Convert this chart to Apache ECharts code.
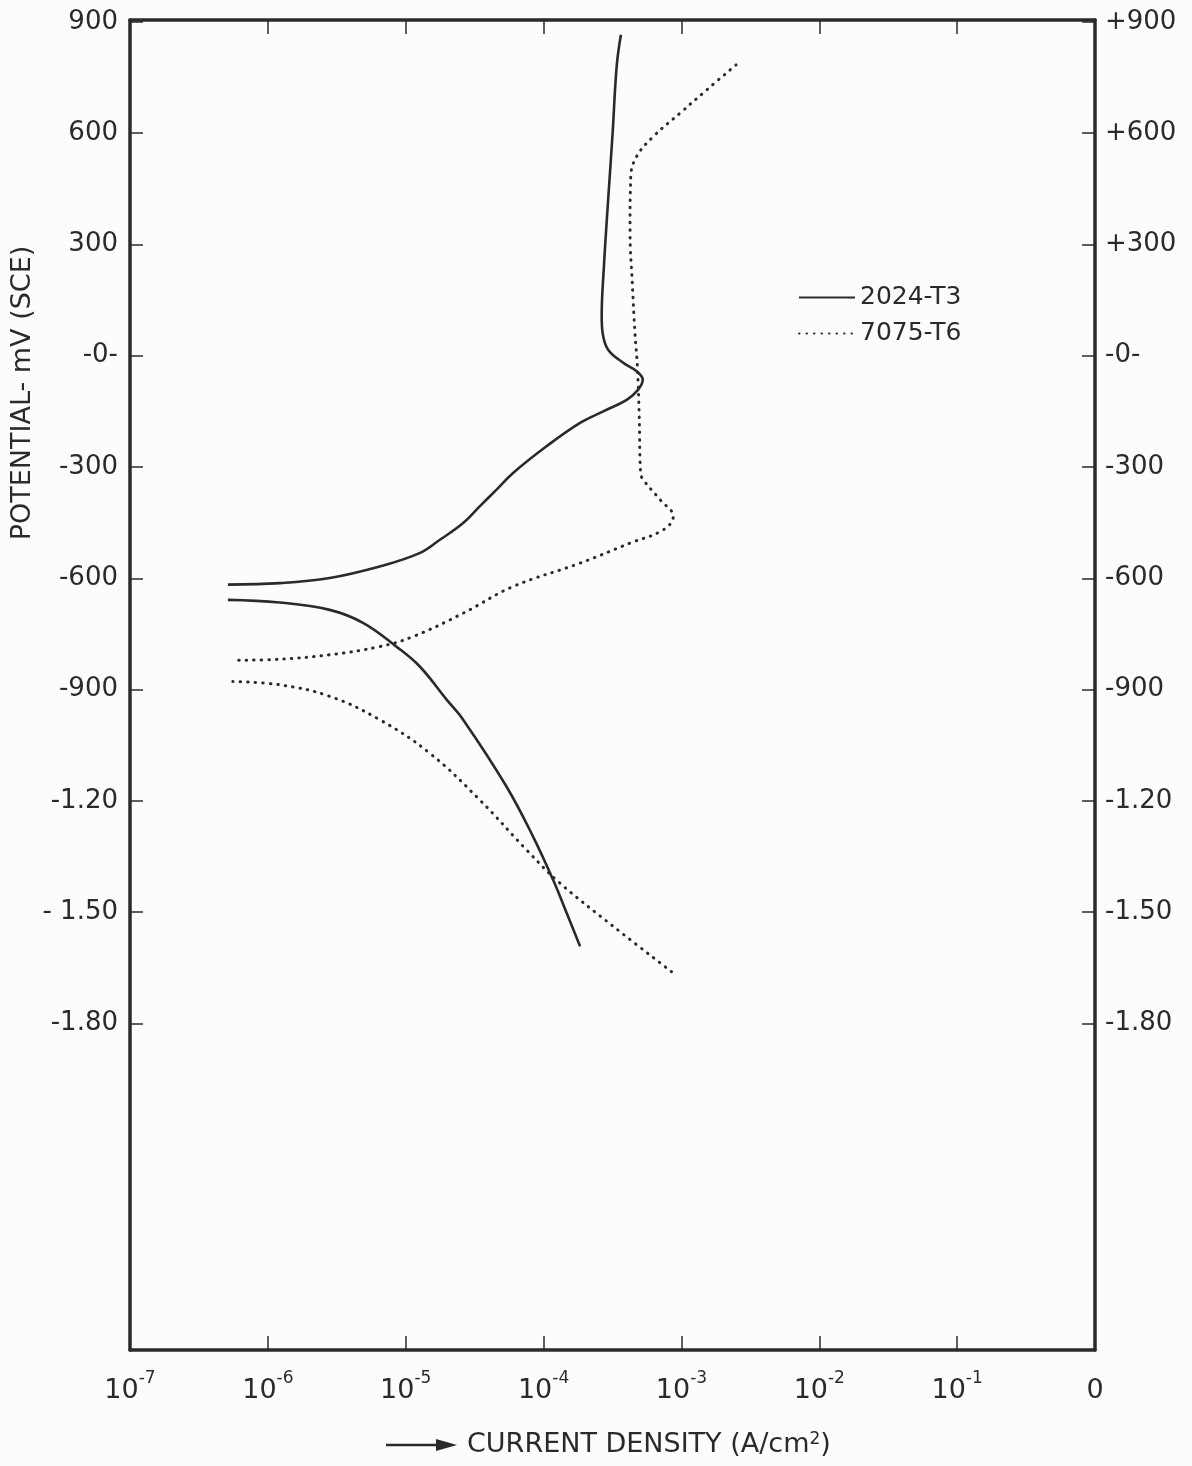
<!DOCTYPE html>
<html>
<head>
<meta charset="utf-8">
<script src="https://cdn.jsdelivr.net/npm/echarts@6/dist/echarts.min.js"></script>
<style>
html,body{margin:0;padding:0;background:#fcfcfc;}
#c{width:1192px;height:1466px;}
</style>
</head>
<body>
<div id="c"></div>
<script>
// ---- data (current density A/cm2, potential mV SCE) ----
const t3AnodicI = [3.64e-4, 3.39e-4, 3.17e-4, 2.94e-4, 2.74e-4, 2.64e-4, 2.68e-4, 2.94e-4, 3.78e-4, 4.73e-4, 5.24e-4, 4.84e-4, 4.01e-4, 2.71e-4, 1.84e-4, 1.05e-4, 6.01e-5, 4.56e-5, 3.44e-5, 2.61e-5, 1.77e-5, 1.26e-5, 6.47e-6, 2.81e-6, 1.22e-6, 5.13e-7];
const t3AnodicE = [865, 780, 601, 420, 241, 106, 62, 16, -19, -42, -65, -92, -119, -150, -181, -244, -316, -361, -406, -451, -496, -532, -568, -599, -613, -617];
const t3CathodicI = [5.13e-7, 1.22e-6, 2.81e-6, 4.90e-6, 8.55e-6, 1.26e-5, 1.98e-5, 2.61e-5, 5.38e-5, 8.39e-5, 1.17e-4, 1.47e-4, 1.84e-4];
const t3CathodicE = [-658, -665, -685, -720, -784, -837, -927, -981, -1161, -1296, -1412, -1502, -1592];
const t6AnodicI = [2.49e-3, 1.53e-3, 9.77e-4, 6.25e-4, 4.73e-4, 4.29e-4, 4.24e-4, 4.40e-4, 4.60e-4, 4.79e-4, 4.94e-4, 5.06e-4, 5.28e-4, 7.00e-4, 8.73e-4, 7.40e-4, 4.24e-4, 1.84e-4, 6.01e-5, 2.61e-5, 1.13e-5, 6.47e-6, 2.81e-6, 1.22e-6, 5.73e-7];
const t6AnodicE = [784, 717, 654, 591, 537, 483, 331, 196, 61, -29, -164, -316, -334, -388, -433, -469, -505, -559, -622, -694, -757, -784, -806, -818, -821];
const t6CathodicI = [5.57e-7, 1.22e-6, 2.81e-6, 6.47e-6, 1.49e-5, 3.44e-5, 7.53e-5, 1.31e-4, 3.20e-4, 8.73e-4];
const t6CathodicE = [-878, -887, -918, -981, -1071, -1197, -1332, -1421, -1538, -1664];

const seriesNames = ['2024-T3', '7075-T6'];
const yTicks = [900, 600, 300, 0, -300, -600, -900, -1200, -1500, -1800];
const yLabelsLeft = ['900', '600', '300', '-0-', '-300', '-600', '-900', '-1.20', '- 1.50', '-1.80'];
const yLabelsRight = ['+900', '+600', '+300', '-0-', '-300', '-600', '-900', '-1.20', '-1.50', '-1.80'];
const xTicks = [1e-7, 1e-6, 1e-5, 1e-4, 1e-3, 1e-2, 1e-1, 1];
const xTickExps = ['-7', '-6', '-5', '-4', '-3', '-2', '-1', ''];
const xTickBase = ['10', '10', '10', '10', '10', '10', '10', '0'];

const yTitle = 'POTENTIAL- mV (SCE)';
const xTitle = 'CURRENT DENSITY (A/cm{s|2})';

// ---- style ----
const FONT = 'DejaVu Sans';
const INK = '#2a2a2a';

function zip(a, b) { return a.map((v, i) => [v, b[i]]); }

function xLabelFmt(v) {
  let idx = 0, best = Infinity;
  xTicks.forEach((t, i) => { const d = Math.abs(Math.log10(t) - Math.log10(v)); if (d < best) { best = d; idx = i; } });
  if (best > 0.01) return '';
  return xTickExps[idx] ? '{b|' + xTickBase[idx] + '}{s|' + xTickExps[idx] + '}' : '{b|' + xTickBase[idx] + '}';
}
function yFmt(labels) {
  return function (v) {
    const i = yTicks.indexOf(Math.round(v));
    return i >= 0 ? labels[i] : '';
  };
}

const axisLineStyle = { color: INK, width: 3.5 };
const tickStyle = { color: INK, width: 1.5 };

const solidStyle = { color: INK, width: 2.6 };
const dotStyle = { color: INK, width: 3, type: [0.5, 7], cap: 'round' };

const xAxisBase = {
  type: 'log', logBase: 10, min: 1e-7, max: 1,
  axisLine: { show: true, onZero: false, lineStyle: axisLineStyle },
  axisTick: { show: true, inside: true, length: 14, lineStyle: tickStyle, customValues: xTicks },
  minorTick: { show: false },
  splitLine: { show: false },
  minorSplitLine: { show: false }
};
const yAxisBase = {
  type: 'value', min: -2680, max: 905,
  axisLine: { show: true, onZero: false, lineStyle: axisLineStyle },
  axisTick: { show: true, inside: true, length: 13, lineStyle: tickStyle, customValues: yTicks },
  splitLine: { show: false }
};

const chart = echarts.init(document.getElementById('c'), null, { renderer: 'canvas' });
chart.setOption({
  backgroundColor: '#fcfcfc',
  animation: false,
  grid: { left: 130, right: 97, top: 20, bottom: 116, containLabel: false },
  legend: {
    data: seriesNames,
    orient: 'vertical',
    left: 793, top: 280,
    itemWidth: 56, itemHeight: 14, itemGap: 11,
    itemStyle: { opacity: 0 },
    textStyle: { fontFamily: FONT, fontSize: 25, color: INK }
  },
  xAxis: [
    Object.assign({}, xAxisBase, {
      position: 'bottom',
      axisLabel: {
        show: true, margin: 20, customValues: xTicks,
        formatter: xLabelFmt,
        rich: {
          b: { fontFamily: FONT, fontSize: 27, color: INK, lineHeight: 34, verticalAlign: 'bottom' },
          s: { fontFamily: FONT, fontSize: 17, color: INK, lineHeight: 20, verticalAlign: 'top' }
        }
      }
    }),
    Object.assign({}, xAxisBase, { position: 'top', axisLabel: { show: false } })
  ],
  yAxis: [
    Object.assign({}, yAxisBase, {
      position: 'left',
      axisLabel: { show: true, customValues: yTicks, formatter: yFmt(yLabelsLeft), margin: 12, fontFamily: FONT, fontSize: 26, color: INK }
    }),
    Object.assign({}, yAxisBase, {
      position: 'right',
      axisLabel: { show: true, customValues: yTicks, formatter: yFmt(yLabelsRight), margin: 10, fontFamily: FONT, fontSize: 26, color: INK }
    })
  ],
  series: [
    { name: seriesNames[0], type: 'line', data: zip(t3AnodicI, t3AnodicE), symbol: 'none', smooth: 0.4, lineStyle: solidStyle, itemStyle: { color: INK } },
    { name: seriesNames[0], type: 'line', data: zip(t3CathodicI, t3CathodicE), symbol: 'none', smooth: 0.4, lineStyle: solidStyle, itemStyle: { color: INK } },
    { name: seriesNames[1], type: 'line', data: zip(t6AnodicI, t6AnodicE), symbol: 'none', smooth: 0.4, lineStyle: dotStyle, itemStyle: { color: INK } },
    { name: seriesNames[1], type: 'line', data: zip(t6CathodicI, t6CathodicE), symbol: 'none', smooth: 0.4, lineStyle: dotStyle, itemStyle: { color: INK } }
  ],
  graphic: [
    { type: 'text', x: 23, y: 393, rotation: Math.PI / 2,
      style: { text: yTitle, fontFamily: FONT, fontSize: 27, fill: INK, align: 'center', verticalAlign: 'middle' } },
    { type: 'line', shape: { x1: 386, y1: 1445, x2: 440, y2: 1445 }, style: { stroke: INK, lineWidth: 2.5 } },
    { type: 'polygon', shape: { points: [[436, 1439], [457, 1445], [436, 1451]] }, style: { fill: INK } },
    { type: 'text', x: 467, y: 1445,
      style: { text: xTitle, fontFamily: FONT, fontSize: 27, fill: INK, align: 'left', verticalAlign: 'middle',
        rich: { s: { fontFamily: FONT, fontSize: 17, fill: INK, verticalAlign: 'top', lineHeight: 18 } } } }
  ]
});
</script>
</body>
</html>
